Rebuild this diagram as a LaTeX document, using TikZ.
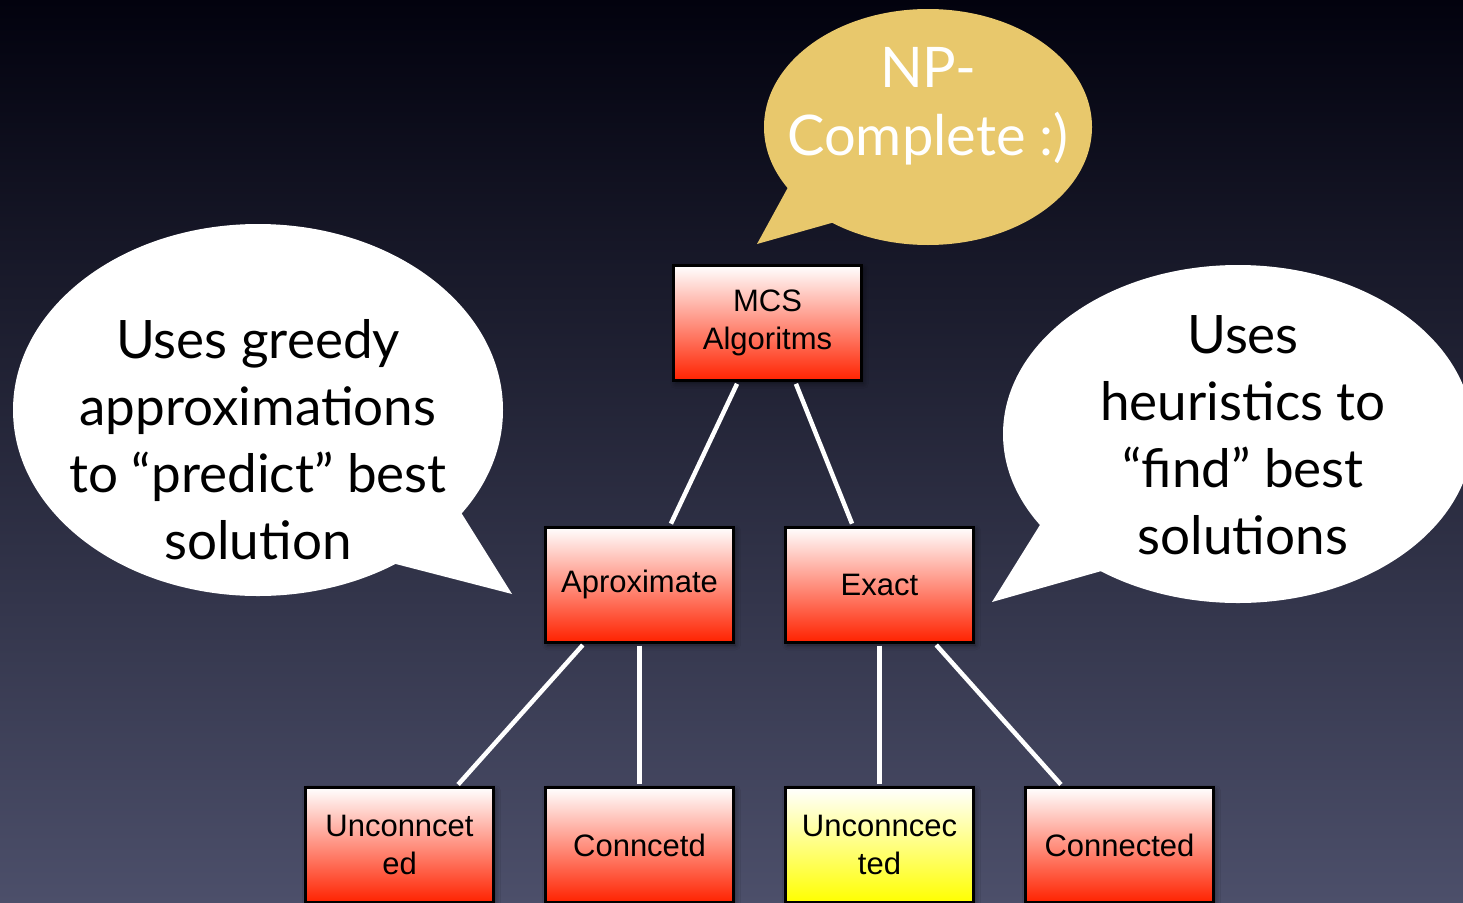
\documentclass[tikz,border=0pt]{standalone}
\usepackage{fontspec}
\setmainfont{Liberation Sans}
\newfontfamily\bubblefont{Lato}
\usetikzlibrary{calc,shadows.blur}

\definecolor{bgtop}{RGB}{2,2,14}
\definecolor{bgbot}{RGB}{76,79,106}
\definecolor{boxred}{RGB}{255,34,0}
\definecolor{boxpink}{RGB}{255,150,145}
\definecolor{boxyellow}{RGB}{255,255,0}
\definecolor{boxpaleyellow}{RGB}{255,255,150}
\definecolor{bubblegold}{RGB}{232,200,108}

\begin{document}
\begin{tikzpicture}[x=1pt,y=-1pt,
  algbox/.style={draw=black, line width=3pt, minimum width=188pt,
    minimum height=115pt, inner sep=0pt, align=center,
    font=\fontsize{31}{38}\selectfont,
    top color=white, middle color=boxpink, bottom color=boxred,
    blur shadow={shadow xshift=2pt, shadow yshift=-3pt,
      shadow blur radius=5pt, shadow opacity=45}},
  yelbox/.style={algbox, top color=white, middle color=boxpaleyellow,
    bottom color=boxyellow},
  link/.style={draw=white, line width=4.5pt, shorten <=2pt, shorten >=2pt},
  saytext/.style={align=center, inner sep=0pt,
    font=\bubblefont\fontsize{53}{67}\selectfont},
  goldtext/.style={align=center, inner sep=0pt, text=white,
    font=\bubblefont\fontsize{56}{68}\selectfont}]

% background
\shade[top color=bgtop, bottom color=bgbot] (0,0) rectangle (1463,902);
\useasboundingbox (0,0) rectangle (1463,902);

% speech bubbles
\fill[bubblegold] (928,127) ellipse [x radius=164, y radius=118];
\fill[bubblegold] (792,180) -- (757,244) -- (842,220) -- cycle;

\fill[white] (258,410) ellipse [x radius=245, y radius=186];
\fill[white] (452,498) -- (512,594) -- (388,562) -- cycle;

\fill[white] (1238,434) ellipse [x radius=235, y radius=169];
\fill[white] (1048,512) -- (992,602) -- (1112,568) -- cycle;

% bubble texts
\node[goldtext] (np) at (928,106) {NP-\\Complete :)};
\node[saytext] (greedy) at (258,440)
  {Uses greedy\\approximations\\to “predict” best\\solution};
\node[saytext] (heur) at (1243,435)
  {Uses\\heuristics to\\“find” best\\solutions};

% algorithm tree
\node[algbox] (mcs) at (767.5,323) {MCS\\Algoritms};
\node[algbox] (aprox) at (639.5,584.5) {Aproximate};
\node[algbox] (exact) at (879.5,584.5) {Exact};
\node[algbox] (aunc) at (399.5,845) {Unconncet\\ed};
\node[algbox] (acon) at (639.5,845) {Conncetd};
\node[yelbox] (eunc) at (879.5,845) {Unconncec\\ted};
\node[algbox] (econ) at (1119.5,845) {Connected};

\draw[link] ($(mcs.south west)!0.345!(mcs.south east)$) -- ($(aprox.north west)!0.66!(aprox.north east)$);
\draw[link] ($(mcs.south west)!0.645!(mcs.south east)$) -- ($(exact.north west)!0.36!(exact.north east)$);
\draw[link] ($(aprox.south west)!0.21!(aprox.south east)$) -- ($(aunc.north west)!0.80!(aunc.north east)$);
\draw[link] (aprox.south) -- (acon.north);
\draw[link] (exact.south) -- (eunc.north);
\draw[link] ($(exact.south west)!0.79!(exact.south east)$) -- ($(econ.north west)!0.20!(econ.north east)$);

\end{tikzpicture}
\end{document}
